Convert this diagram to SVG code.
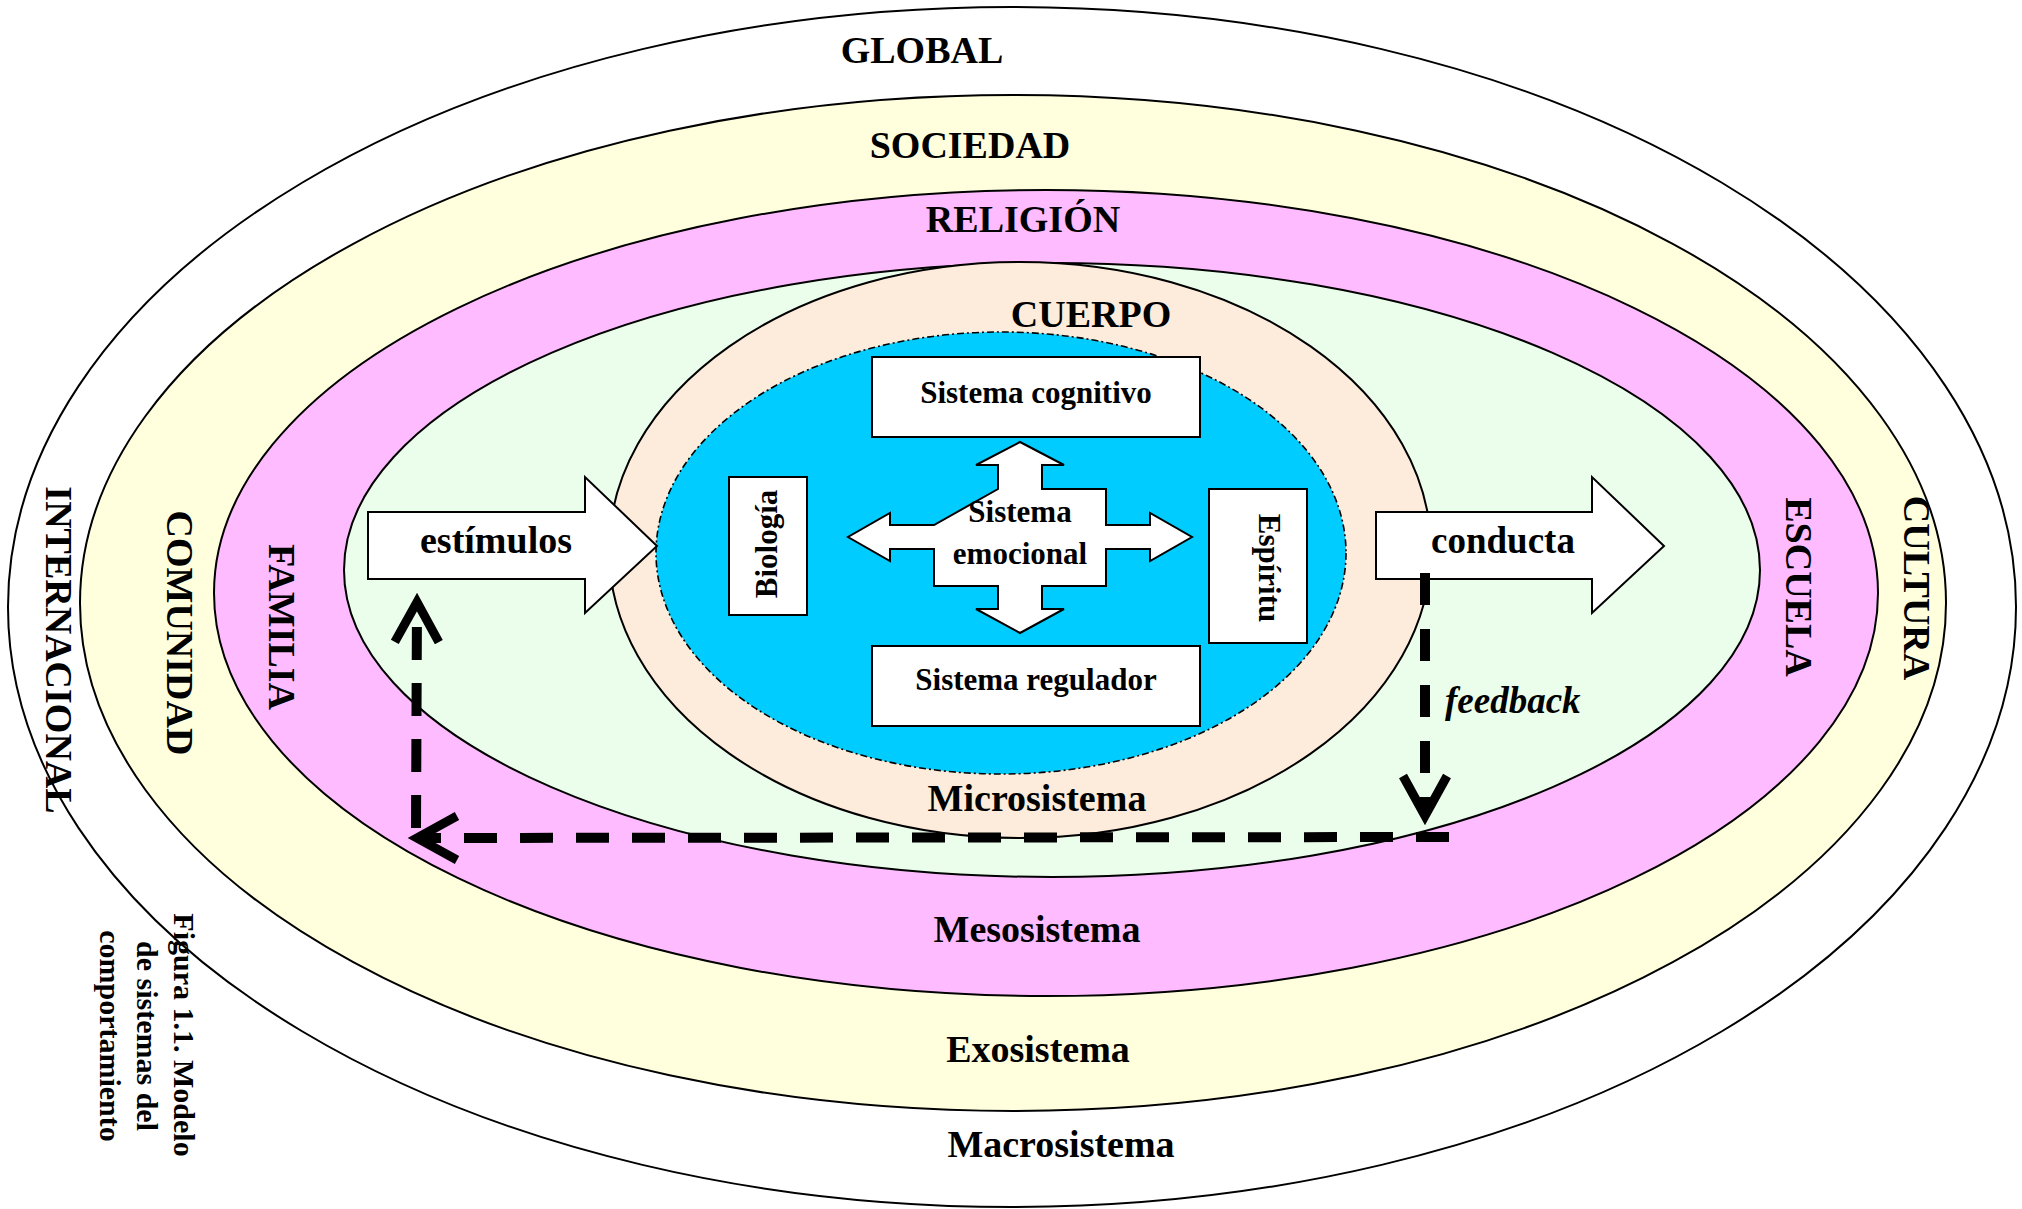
<svg xmlns="http://www.w3.org/2000/svg" width="2022" height="1209" viewBox="0 0 2022 1209">
<defs>
<style>
.ring { stroke:#000; stroke-width:2; }
.t { font-family:"Liberation Serif","Times New Roman",serif; font-weight:bold; fill:#000; }
.big { font-size:38px; text-anchor:middle; }
.mid { font-size:31px; text-anchor:middle; }
.box { fill:#fff; stroke:#000; stroke-width:2; }
.fb { fill:none; stroke:#000; stroke-width:10; }
</style>
<marker id="vhead" markerUnits="userSpaceOnUse" markerWidth="60" markerHeight="60" refX="40" refY="22" orient="auto" overflow="visible">
<path d="M0 0 L40 22 L0 44" fill="none" stroke="#000" stroke-width="9"/>
</marker>
</defs>
<rect x="0" y="0" width="2022" height="1209" fill="#fff"/>
<g id="macrosistema">
<ellipse class="ring" cx="1012" cy="607" rx="1004" ry="600" fill="#fff"/>
</g>
<g id="exosistema">
<ellipse class="ring" cx="1013" cy="603" rx="933" ry="508" fill="#FFFFDD"/>
</g>
<g id="mesosistema">
<ellipse class="ring" cx="1046" cy="593" rx="832" ry="403" fill="#FFBBFF"/>
</g>
<g id="entorno">
<ellipse class="ring" cx="1052" cy="570" rx="708" ry="307" fill="#EBFDEB"/>
</g>
<g id="microsistema">
<ellipse class="ring" cx="1020" cy="550" rx="411" ry="288" fill="#FDEBDB"/>
</g>
<g id="nucleo">
<ellipse cx="1001" cy="553" rx="345" ry="221" fill="#00CCFF" stroke="#000" stroke-width="1.6" stroke-dasharray="7 3 2 3"/>
</g>

<g id="labels">
<text class="t big" x="922" y="63">GLOBAL</text>
<text class="t big" x="970" y="158">SOCIEDAD</text>
<text class="t big" x="1023" y="232">RELIGIÓN</text>
<text class="t big" x="1091" y="327">CUERPO</text>
<text class="t big" x="1037" y="811">Microsistema</text>
<text class="t big" x="1037" y="942">Mesosistema</text>
<text class="t big" x="1038" y="1062">Exosistema</text>
<text class="t big" x="1061" y="1157">Macrosistema</text>
<text class="t big" transform="translate(46,650) rotate(90)">INTERNACIONAL</text>
<text class="t big" transform="translate(167,633) rotate(90)">COMUNIDAD</text>
<text class="t big" transform="translate(269,627) rotate(90)">FAMILIA</text>
<text class="t big" transform="translate(1786,587) rotate(90)">ESCUELA</text>
<text class="t big" transform="translate(1904,588) rotate(90)">CULTURA</text>
</g>

<g id="caption">
<text class="t" font-size="30" text-anchor="middle" transform="translate(174,1035) rotate(90)">Figura 1.1. Modelo</text>
<text class="t" font-size="30" text-anchor="middle" transform="translate(137,1036) rotate(90)">de sistemas del</text>
<text class="t" font-size="30" text-anchor="middle" transform="translate(100,1036) rotate(90)">comportamiento</text>
</g>

<g id="sistema-cognitivo">
<rect class="box" x="872" y="357" width="328" height="80"/>
<text class="t mid" x="1036" y="403">Sistema cognitivo</text>
</g>
<g id="sistema-regulador">
<rect class="box" x="872" y="646" width="328" height="80"/>
<text class="t mid" x="1036" y="690">Sistema regulador</text>
</g>
<g id="biologia">
<rect class="box" x="729" y="477" width="78" height="138"/>
<text class="t mid" transform="translate(777,544) rotate(-90)">Biología</text>
</g>
<g id="espiritu">
<rect class="box" x="1209" y="489" width="98" height="154"/>
<text class="t mid" transform="translate(1259,568) rotate(90)">Espíritu</text>
</g>
<g id="sistema-emocional">
<polygon class="box" points="998,489 998,465 976,465 1020,442 1064,465 1042,465 1042,489 1106,489 1106,525 1150,525 1150,513 1192,537 1150,561 1150,549 1106,549 1106,586 1042,586 1042,609 1064,609 1020,633 976,609 998,609 998,586 934,586 934,549 890,549 890,561 848,537 890,513 890,525 934,525"/>
<text class="t mid" x="1020" y="522">Sistema</text>
<text class="t mid" x="1020" y="564">emocional</text>
</g>
<g id="estimulos">
<polygon class="box" points="368,512 585,512 585,477 657,546 585,613 585,579 368,579"/>
<text class="t" font-size="38" text-anchor="middle" x="496" y="553">estímulos</text>
</g>
<g id="conducta">
<polygon class="box" points="1376,512 1592,512 1592,477 1664,546 1592,613 1592,579 1376,579"/>
<text class="t" font-size="37" text-anchor="middle" x="1503" y="553">conducta</text>
</g>

<g id="connectors">
<path class="fb" d="M1425 573 L1425 816" stroke-dasharray="32 24" marker-end="url(#vhead)"/>
<path class="fb" d="M1449 837 L417 838" stroke-dasharray="33 23" marker-end="url(#vhead)"/>
<path class="fb" d="M416 828 L417 602" stroke-dasharray="33 23" marker-end="url(#vhead)"/>
<text class="t" font-size="37" font-style="italic" x="1445" y="713">feedback</text>
</g>
</svg>
